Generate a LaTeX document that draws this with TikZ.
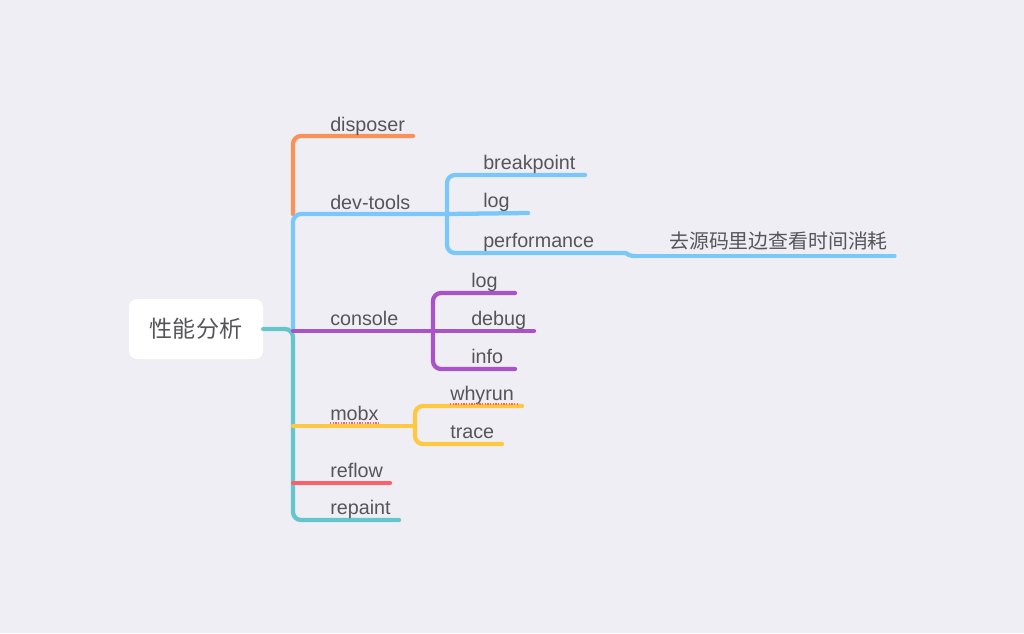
\documentclass[tikz,border=0pt]{standalone}
\usepackage{fontspec}
\setmainfont{Liberation Sans}
\newfontfamily\cjk{Noto Sans CJK SC}
\definecolor{bg}{RGB}{239,238,244}
\definecolor{txt}{RGB}{85,85,90}
\definecolor{cOrange}{RGB}{248,146,88}
\definecolor{cBlue}{RGB}{122,199,250}
\definecolor{cPurple}{RGB}{168,84,200}
\definecolor{cYellow}{RGB}{254,200,64}
\definecolor{cRed}{RGB}{253,96,106}
\definecolor{cTeal}{RGB}{100,198,202}
\tikzset{
  lbl/.style={anchor=base west, inner sep=0pt, text=txt, font=\fontsize{14.8pt}{16pt}\selectfont},
  branch/.style={line width=3.2pt, line cap=round, rounded corners=6pt},
  thinbranch/.style={line width=2.3pt, line cap=round},
  spell/.style={cRed, line width=1.1pt, dash pattern=on 1pt off 1pt},
  rootbox/.style={fill=white, rounded corners=6pt, minimum width=100.5pt, minimum height=45pt, text=txt, font=\cjk\fontsize{17.3pt}{18pt}\selectfont}
}
\begin{document}
\begin{tikzpicture}[x=0.75pt,y=-0.75pt]
\useasboundingbox (0,0) rectangle (1024,633);
\fill[bg] (0,0) rectangle (1024,633);

% root
\node[rootbox] (root) at (196,329) {性能分析};

% coordinates
\coordinate (jDev) at (293,214);
\coordinate (jCon) at (293,331);
\coordinate (jBot) at (293,520);
\coordinate (dispE) at (413,136);
\coordinate (devB) at (447,214);
\coordinate (bpE) at (585,175);
\coordinate (logE) at (528,213);
\coordinate (perfM) at (618,253);
\coordinate (perfE) at (636,256);
\coordinate (cnE) at (895,256);
\coordinate (conB) at (433,331);
\coordinate (clogE) at (515,293);
\coordinate (debugE) at (534,331);
\coordinate (infoE) at (515,369);
\coordinate (mobxS) at (293,426);
\coordinate (mobxB) at (415,426);
\coordinate (whyE) at (522,406);
\coordinate (traceE) at (502,444);
\coordinate (reflS) at (293,483);
\coordinate (reflE) at (390,483);
\coordinate (repE) at (399,520);

% connectors
\draw[branch, cTeal] (root.east) -| (jBot) -- (repE);
\draw[branch, cOrange] (jDev) |- (dispE);
\draw[branch, cBlue] (jCon) |- (devB);
\draw[branch, cPurple] (jCon) -- (conB);
\draw[branch, cYellow] (mobxS) -- (mobxB);
\draw[branch, cRed] (reflS) -- (reflE);

\draw[branch, cBlue] (devB) |- (bpE);
\draw[branch, cBlue] (devB) -- (logE);
\draw[branch, cBlue] (devB) |- (perfM) .. controls (627,253) and (627,256) .. (perfE);
\draw[thinbranch, cBlue] (perfE) -- (cnE);

\draw[branch, cPurple] (conB) |- (clogE);
\draw[branch, cPurple] (conB) -- (debugE);
\draw[branch, cPurple] (conB) |- (infoE);

\draw[branch, cYellow] (mobxB) |- (whyE);
\draw[branch, cYellow] (mobxB) |- (traceE);

% labels
\node[lbl] (disposer) at (330,131) {disposer};
\node[lbl] (devtools) at (330,209) {dev-tools};
\node[lbl] (console) at (330,325) {console};
\node[lbl] (mobx) at (330,420) {mobx};
\node[lbl] (reflow) at (330,477) {reflow};
\node[lbl] (repaint) at (330,514) {repaint};
\node[lbl] (breakpoint) at (483,169) {breakpoint};
\node[lbl] (log) at (483,207) {log};
\node[lbl] (performance) at (483,247) {performance};
\node[lbl, font=\cjk\fontsize{14.9pt}{16pt}\selectfont] (cost) at (669,248) {去源码里边查看时间消耗};
\node[lbl] (clog) at (471,287) {log};
\node[lbl] (debug) at (471,325) {debug};
\node[lbl] (info) at (471,363) {info};
\node[lbl] (whyrun) at (450,400) {whyrun};
\node[lbl] (trace) at (450,438) {trace};

% spell-check underlines
\draw[spell] (mobx.base west) ++(0,3) -- ++(50,0);
\draw[spell] (whyrun.base west) ++(0,4) -- ++(67,0);
\end{tikzpicture}
\end{document}
